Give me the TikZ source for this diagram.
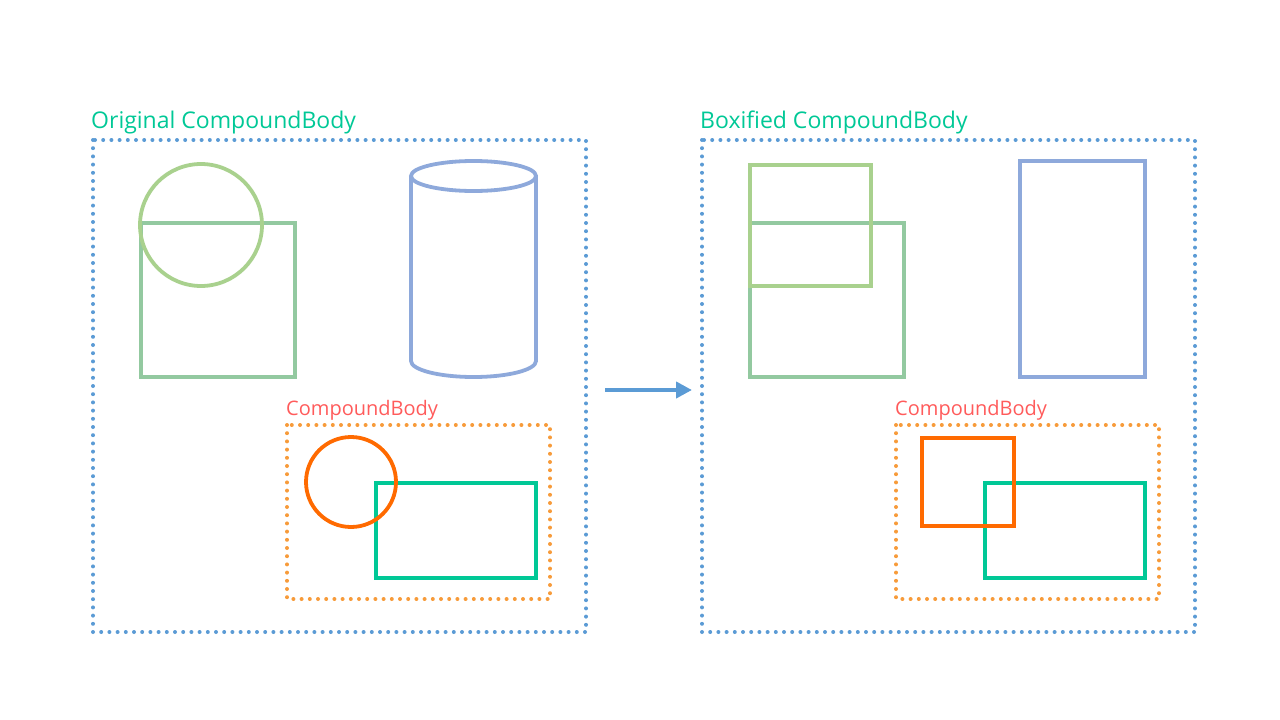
\documentclass[tikz,border=0pt]{standalone}
\usepackage{fontspec}
\setmainfont{Open Sans}
\usetikzlibrary{arrows.meta}

\definecolor{frameblue}{HTML}{5B9BD5}
\definecolor{titlegreen}{HTML}{00C896}
\definecolor{labelred}{HTML}{FF5B5B}
\definecolor{circgreen}{HTML}{A9D18E}
\definecolor{boxgreen}{HTML}{93C9A0}
\definecolor{cylblue}{HTML}{8EA9DB}
\definecolor{dotorange}{HTML}{F79B3A}
\definecolor{partorange}{HTML}{FF6A00}
\definecolor{partteal}{HTML}{00C896}

\tikzset{
  dotframe/.style={line width=4pt, line cap=round, dash pattern=on 0pt off 8.2pt},
  part/.style={line width=3.8pt},
  title/.style={anchor=base west, inner sep=0pt, text=titlegreen, font=\fontsize{23}{27}\selectfont},
  sublabel/.style={anchor=base west, inner sep=0pt, text=labelred, font=\fontsize{20}{24}\selectfont}
}

\begin{document}
\begin{tikzpicture}[x=1pt,y=-1pt]
  \useasboundingbox (0,0) rectangle (1280,720);

  % original body
  \begin{scope}
    \node[title] (origtitle) at (91,128) {Original CompoundBody};
    \draw[dotframe, frameblue] (93,140) rectangle (586,632);
    \draw[part, boxgreen] (141,223) rectangle (295,377);
    \draw[part, circgreen] (201,225) circle[radius=61];
    % cylinder
    \draw[part, cylblue] (473.5,176) ellipse[x radius=62.5, y radius=15];
    \draw[part, cylblue] (411,176) -- (411,361)
      arc[start angle=180, end angle=0, x radius=62.5, y radius=16] -- (536,176);
    % nested body
    \node[sublabel] (origsub) at (286,415) {CompoundBody};
    \draw[dotframe, dotorange] (287,425) rectangle (550,599);
    \draw[part, partteal] (376,483) rectangle (536,578);
    \draw[part, partorange] (351,482) circle[radius=45];
  \end{scope}

  % arrow
  \coordinate (from) at (605,390);
  \coordinate (to) at (692,390);
  \draw[frameblue, line width=4.5pt, -{Triangle[length=16pt, width=16pt]}] (from) -- (to);

  % boxified body
  \begin{scope}
    \node[title] (boxtitle) at (700,128) {Boxified CompoundBody};
    \draw[dotframe, frameblue] (702,140) rectangle (1195,632);
    \draw[part, boxgreen] (750,223) rectangle (904,377);
    \draw[part, circgreen] (750,165) rectangle (871,286);
    \draw[part, cylblue] (1020,161) rectangle (1145,377);
    \node[sublabel] (boxsub) at (895,415) {CompoundBody};
    \draw[dotframe, dotorange] (896,425) rectangle (1159,599);
    \draw[part, partteal] (985,483) rectangle (1145,578);
    \draw[part, partorange] (922,438) rectangle (1014,526);
  \end{scope}
\end{tikzpicture}
\end{document}
